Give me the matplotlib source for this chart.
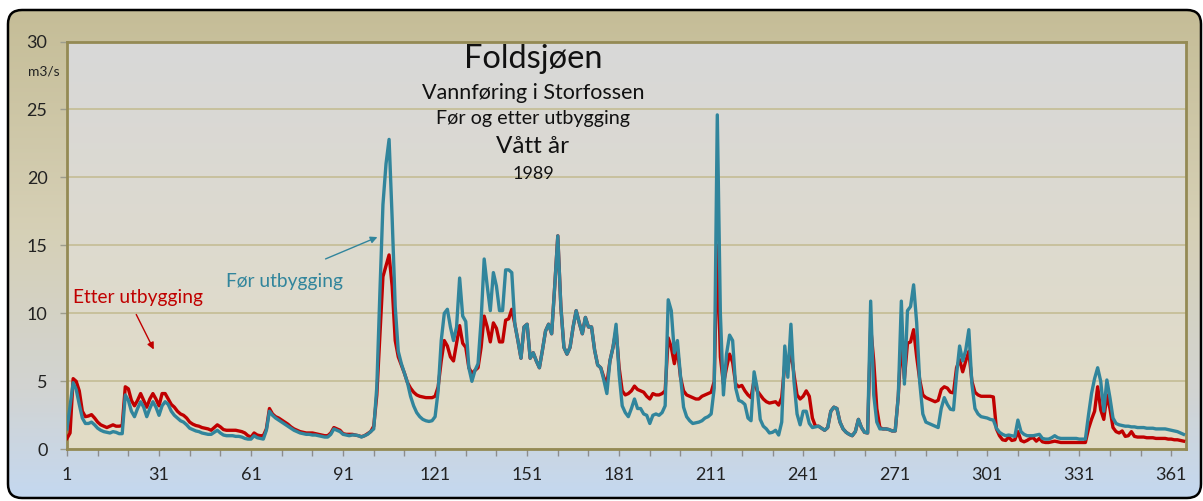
# ********************** modules **********************
import numpy as np
import matplotlib.pyplot as plt
from matplotlib.patches import FancyBboxPatch

plt.rcParams['font.family'] = ['Lato', 'DejaVu Sans']

# ********************** data (m3/s per day, 1989) **********************
for_utbygging = [
    1.5, 3.2, 4.9, 4.4, 3.3, 2.3, 1.9, 1.9, 2.0, 1.8,
    1.55, 1.4, 1.3, 1.25, 1.2, 1.3, 1.25, 1.15, 1.15, 4.0,
    3.6, 2.8, 2.4, 3.0, 3.5, 3.1, 2.4, 3.0, 3.5, 3.1,
    2.5, 3.2, 3.5, 3.3, 2.8, 2.5, 2.3, 2.1, 2.0, 1.8,
    1.55, 1.45, 1.35, 1.3, 1.2, 1.15, 1.1, 1.1, 1.25, 1.4,
    1.2, 1.05, 1.0, 1.0, 1.0, 0.95, 0.95, 0.9, 0.8, 0.75,
    0.75, 1.0, 0.85, 0.8, 0.75, 1.4, 2.8, 2.5, 2.3, 2.15,
    2.0, 1.85, 1.7, 1.55, 1.4, 1.3, 1.2, 1.15, 1.1, 1.1,
    1.05, 1.05, 1.0, 0.95, 0.9, 0.9, 1.1, 1.5, 1.4, 1.3,
    1.1, 1.05, 1.0, 1.05, 1.05, 1.0, 0.9, 1.0, 1.1, 1.3,
    1.5, 4.6, 11.5, 18.0, 21.0, 22.8, 17.0, 10.5, 7.2, 6.3,
    5.6, 4.9, 3.9, 3.2, 2.7, 2.4, 2.2, 2.1, 2.05, 2.1,
    2.4, 4.3, 8.0, 10.0, 10.3, 9.0, 8.0, 9.0, 12.6, 9.8,
    9.4, 6.0, 5.0, 5.8, 6.3, 9.5, 14.0, 12.0, 10.2, 13.0,
    12.0, 10.2, 10.2, 13.2, 13.2, 13.0, 9.2, 8.0, 6.7, 9.0,
    9.2, 6.7, 7.1, 6.5, 6.0, 7.3, 8.7, 9.2, 8.5, 12.0,
    15.7, 10.5, 7.5, 7.0, 7.5, 9.0, 10.2, 9.3, 8.5, 9.7,
    9.0, 9.0, 7.3, 6.2, 6.0, 5.1, 4.1, 6.5, 7.5, 9.2,
    5.5, 3.2, 2.7, 2.4, 3.0, 3.7, 3.0, 3.0, 2.6, 2.5,
    1.9, 2.5, 2.6, 2.5, 2.7, 3.2, 11.0, 10.2, 7.1, 8.0,
    5.4, 3.1, 2.4, 2.1, 1.9, 1.95, 2.0, 2.1, 2.3, 2.4,
    2.6, 4.5, 24.6, 10.0, 4.0, 7.0, 8.4, 8.0, 4.5, 3.6,
    3.5, 3.3, 2.3, 2.1, 5.7, 4.5, 2.2, 1.7, 1.5, 1.2,
    1.25, 1.4, 1.05, 2.0, 7.6, 5.3, 9.2, 5.0, 2.6, 1.8,
    2.8, 2.8, 1.9, 1.6, 1.65, 1.7, 1.55, 1.4, 1.6, 2.8,
    3.1, 3.0, 2.0, 1.5, 1.25, 1.1, 1.0, 1.3, 2.2, 1.6,
    1.25, 1.2, 10.9, 4.0, 2.0, 1.5, 1.5, 1.5, 1.45, 1.35,
    1.35, 3.9, 10.9, 4.8, 10.2, 10.5, 12.1, 9.3, 4.9, 2.6,
    2.0, 1.9, 1.8, 1.7, 1.6, 3.0, 3.8, 3.3, 2.95, 2.9,
    5.5, 7.6, 6.5, 7.3, 8.8, 4.8, 3.0, 2.6, 2.4, 2.35,
    2.3, 2.2, 2.15, 1.55, 1.25, 1.1, 1.0, 1.05, 1.0, 0.95,
    2.15, 1.3, 1.1, 1.0, 1.0, 1.0, 1.05, 1.1, 0.8, 0.75,
    0.75, 0.85, 1.0, 0.85, 0.8, 0.8, 0.8, 0.8, 0.8, 0.8,
    0.75, 0.75, 0.75, 2.5, 4.1, 5.2, 6.0, 5.0, 2.8, 5.1,
    3.8, 2.3, 1.9, 1.8, 1.75, 1.7, 1.7, 1.65, 1.65, 1.6,
    1.6, 1.6, 1.55, 1.55, 1.55, 1.5, 1.5, 1.5, 1.5, 1.45,
    1.4, 1.35, 1.3, 1.2, 1.1,
]

etter_utbygging = [
    0.8, 1.2, 5.2, 5.0, 4.3, 2.8, 2.4, 2.45, 2.55, 2.3,
    2.0, 1.8, 1.7, 1.6, 1.7, 1.8, 1.7, 1.7, 1.75, 4.6,
    4.45, 3.6, 3.2, 3.6, 4.1, 3.6, 3.1, 3.7, 4.1, 3.7,
    3.2, 4.1, 4.1, 3.7, 3.3, 3.1, 2.8, 2.6, 2.5, 2.3,
    2.0, 1.85, 1.75, 1.7, 1.6, 1.55, 1.5, 1.4, 1.6, 1.8,
    1.65, 1.45, 1.4, 1.4, 1.4, 1.4, 1.35, 1.3, 1.2, 1.0,
    0.9, 1.2, 1.05, 1.0, 1.0, 1.5, 3.0, 2.6, 2.4, 2.3,
    2.15, 2.0, 1.85, 1.65, 1.5, 1.4, 1.3, 1.25, 1.2, 1.2,
    1.2, 1.15, 1.1, 1.05, 1.0, 1.0, 1.2, 1.6, 1.5, 1.4,
    1.15, 1.1, 1.1, 1.1, 1.05, 1.0, 0.93, 1.0, 1.15, 1.3,
    1.7, 4.0, 8.3, 12.7, 13.5, 14.3, 12.0, 8.0, 6.8, 6.2,
    5.6, 4.9, 4.5, 4.2, 4.0, 3.9, 3.85, 3.8, 3.8, 3.8,
    3.9, 4.6, 6.5, 8.0, 7.6, 6.8, 6.5, 7.8, 9.1, 7.8,
    7.5, 6.0, 5.6, 5.8, 6.0, 7.5, 9.8, 9.0, 7.9, 9.3,
    8.9, 7.9, 7.9, 9.5, 9.6, 10.3, 9.2, 8.0, 6.7, 9.0,
    9.2, 6.7, 7.1, 6.5, 6.0, 7.3, 8.7, 9.2, 8.5, 12.0,
    15.7, 10.5, 7.5, 7.0, 7.5, 9.0, 10.2, 9.3, 8.5, 9.7,
    9.0, 9.0, 7.3, 6.2, 6.0, 5.3, 4.8, 6.5, 7.5, 8.8,
    6.0, 4.3, 4.0, 4.1, 4.3, 4.65, 4.4, 4.3, 4.2, 3.9,
    3.7, 4.1, 4.0, 4.0, 4.1, 4.3, 8.2, 7.5, 6.3, 7.4,
    5.3, 4.3, 4.0, 3.9, 3.8, 3.7, 3.7, 3.9, 4.0, 4.1,
    4.2, 5.0, 15.0, 6.8, 4.8, 6.0, 7.0, 6.4, 4.8, 4.6,
    4.7, 4.3, 4.0, 3.8, 5.1, 4.3, 4.0, 3.7, 3.5, 3.4,
    3.45, 3.5, 3.25, 3.8, 6.3, 6.0, 7.3, 5.5, 4.0, 3.7,
    3.9, 4.3, 3.9, 2.3, 1.7, 1.7, 1.55, 1.4, 1.6, 2.8,
    3.1, 3.0, 2.0, 1.5, 1.25, 1.1, 1.0, 1.3, 2.2, 1.6,
    1.25, 1.2, 9.0, 6.5, 3.0, 1.6, 1.5, 1.5, 1.45, 1.35,
    1.35, 3.9, 8.0, 5.2, 7.8, 7.9, 8.8, 6.8, 5.1, 4.0,
    3.8, 3.7, 3.6, 3.5, 3.6, 4.4, 4.6, 4.5, 4.2, 4.15,
    6.0, 6.6, 5.7, 6.5, 7.2, 5.0, 4.2, 4.0, 3.9, 3.9,
    3.9, 3.9, 3.85, 1.5, 1.0, 0.7, 0.65, 0.9, 0.65, 0.7,
    1.3, 0.65, 0.55, 0.65, 0.8, 0.85, 0.6, 0.8, 0.55, 0.5,
    0.5, 0.55, 0.6, 0.55, 0.5, 0.5, 0.5, 0.5, 0.5, 0.5,
    0.5, 0.5, 0.5, 1.5, 2.2, 2.8, 4.6, 2.9, 2.2, 4.0,
    3.0, 1.6, 1.3, 1.2, 1.35, 0.95, 1.0, 1.3, 0.95, 0.9,
    0.9, 0.9, 0.85, 0.85, 0.85, 0.8, 0.8, 0.8, 0.8, 0.75,
    0.75, 0.7, 0.7, 0.65, 0.6,
]

x_labels = [1, 31, 61, 91, 121, 151, 181, 211, 241, 271, 301, 331, 361]
y_ticks = [0, 5, 10, 15, 20, 25, 30]

RED = '#C00000'
TEAL = '#31859C'

W, H = 1203, 501
fig = plt.figure(figsize=(W / 100, H / 100), dpi=100)
fig.patch.set_facecolor('white')


def fpos(x, y):
    # pixel (from top-left) -> figure fraction
    return x / W, 1 - y / H


def vgrad(stops, n=256):
    # vertical colour gradient image, top row first
    t = np.linspace(0, 1, n)
    pos = [s[0] for s in stops]
    cols = np.array([s[1] for s in stops]) / 255.0
    img = np.stack([np.interp(t, pos, cols[:, k]) for k in range(3)], axis=1)
    return img[:, None, :]


# ******************** outer rounded frame ********************
bg = fig.add_axes([0, 0, 1, 1])
bg.set_xlim(0, W)
bg.set_ylim(H, 0)
bg.axis('off')
frame = FancyBboxPatch((8, 10), 1193, 488, boxstyle='round,pad=0,rounding_size=14',
                       facecolor='none', edgecolor='black', lw=1.8, zorder=2)
frame_img = bg.imshow(vgrad([(0, (197, 189, 151)), (0.45, (214, 208, 182)),
                             (0.78, (210, 212, 210)), (1, (196, 216, 240))]),
                      extent=(8, 1201, 498, 10), aspect='auto', zorder=1)
bg.add_patch(frame)
frame_img.set_clip_path(frame)

# ******************** plot area ********************
ax = fig.add_axes([67 / W, 1 - 449.3 / H, (1186 - 67) / W, (449.3 - 41.5) / H])
ax.patch.set_alpha(0)
ax.imshow(vgrad([(0, (216, 216, 216)), (1, (226, 220, 197))]), extent=(0, 1, 0, 1),
          transform=ax.transAxes, aspect='auto', zorder=-2)

days_for = np.arange(1, len(for_utbygging) + 1)
days_etter = np.arange(1, len(etter_utbygging) + 1)
ax.plot(days_etter, etter_utbygging, color=RED, lw=2.4, zorder=3, solid_joinstyle='round')
ax.plot(days_for, for_utbygging, color=TEAL, lw=2.4, zorder=4, solid_joinstyle='round')

ax.set_xlim(1, 365.8)
ax.set_ylim(0, 30)
ax.set_yticks(y_ticks)
ax.set_xticks(x_labels)
ax.set_xticks(np.arange(1, 362, 10), minor=True)
ax.yaxis.grid(True, color='#C6BF99', lw=1.3, zorder=-1)
ax.set_axisbelow(True)

for s in ax.spines.values():
    s.set_color('#948A54')
    s.set_linewidth(2)

ax.tick_params(axis='y', length=5, width=1, color='#9C9C8C', pad=9,
               labelsize=13, labelcolor='#222222')
ax.tick_params(axis='x', which='both', length=5, width=1, color='#8C8C8C', pad=8,
               labelsize=13, labelcolor='#222222')

# ******************** texts ********************
fig.text(*fpos(28, 75), 'm3/s', fontsize=10, color='#222222')

title_x = 533
fig.text(*fpos(title_x, 68), 'Foldsjøen', fontsize=23.5, ha='center', va='baseline', color='#111111')
fig.text(*fpos(title_x, 99), 'Vannføring i Storfossen', fontsize=15.5, ha='center', va='baseline', color='#111111')
fig.text(*fpos(title_x, 124), 'Før og etter utbygging', fontsize=14.2, ha='center', va='baseline', color='#111111')
fig.text(*fpos(title_x, 153), 'Vått år', fontsize=17.5, ha='center', va='baseline', color='#111111')
fig.text(*fpos(title_x, 179), '1989', fontsize=13, ha='center', va='baseline', color='#111111')

fig.text(*fpos(73, 303), 'Etter utbygging', fontsize=13.8, color=RED, va='baseline')
fig.text(*fpos(226, 287), 'Før utbygging', fontsize=13.8, color=TEAL, va='baseline')

ax.annotate('', xy=fpos(155, 352), xycoords='figure fraction',
            xytext=fpos(135, 312), textcoords='figure fraction',
            arrowprops=dict(arrowstyle='-|>', color=RED, lw=1, mutation_scale=10))
ax.annotate('', xy=fpos(380, 236), xycoords='figure fraction',
            xytext=fpos(323, 260), textcoords='figure fraction',
            arrowprops=dict(arrowstyle='-|>', color=TEAL, lw=1, mutation_scale=10))

fig.savefig('out.png', dpi=100, facecolor=fig.get_facecolor())
